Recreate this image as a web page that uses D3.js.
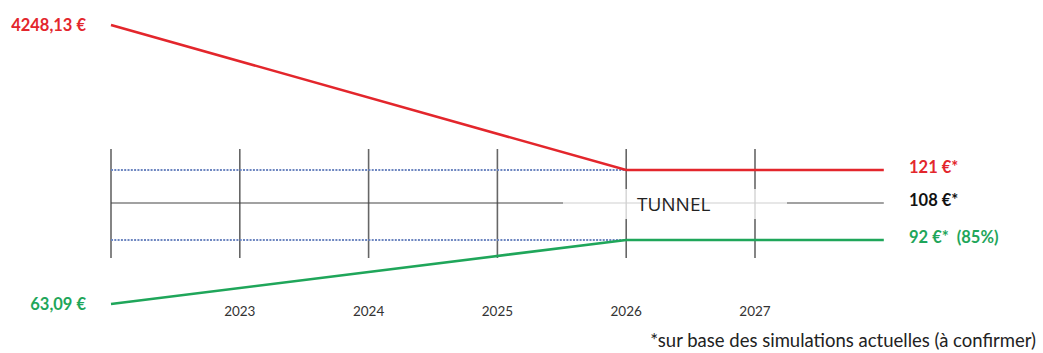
<!DOCTYPE html>
<meta charset="utf-8">
<head>
  <style>
    body { margin: 0; background: #fff; font-family: Lato, "Open Sans", sans-serif; }
    .val { font-weight: 700; font-size: 16.5px; }
    .year { font-size: 13.5px; fill: #333; }
  </style>
</head>
<body>
  <div class="chart"></div>
  <script src="https://d3js.org/d3.v7.min.js"></script>
  <script>
    // years shown as vertical marks (2022 unlabeled start)
    var tickYears = [2022, 2023, 2024, 2025, 2026, 2027];
    var labelYears = [2023, 2024, 2025, 2026, 2027];

    // red series (high) and green series (low)
    var redSeries = [{year: 2022, v: 4248.13}, {year: 2026, v: 121}, {year: 2028, v: 121}];
    var greenSeries = [{year: 2022, v: 63.09}, {year: 2026, v: 92}, {year: 2028, v: 92}];
    var tunnelMid = [{year: 2022, v: 108}, {year: 2028, v: 108}];
    var dottedLevels = [121, 92];

    var rightLabels = [
      {v: 121, text: "121 €*", color: "#e3262c"},
      {v: 108, text: "108 €*", color: "#111"},
      {v: 92, text: "92 €*  (85%)", color: "#1fa65a"}
    ];
    var leftLabels = [
      {v: 4248.13, text: "4248,13 €", color: "#e3262c"},
      {v: 63.09, text: "63,09 €", color: "#1fa65a"}
    ];

    var width = 1043, height = 353;

    var svg = d3.select(".chart").append("svg")
      .attr("width", width)
      .attr("height", height);

    var x = d3.scaleLinear().domain([2022, 2027]).range([111, 755]);

    // schematic (not to scale) piecewise scale
    var y = d3.scaleLinear()
      .domain([63.09, 92, 108, 121, 4248.13])
      .range([304, 240, 203, 170, 25]);

    // vertical year marks
    svg.selectAll(".vtick")
      .data(tickYears)
      .enter().append("line")
        .attr("class", "vtick")
        .attr("x1", function(d) { return x(d); })
        .attr("x2", function(d) { return x(d); })
        .attr("y1", 149)
        .attr("y2", 258)
        .style("stroke", "#666")
        .style("stroke-width", 1.6);

    // tunnel middle line
    var line = d3.line()
      .x(function(d) { return x(d.year); })
      .y(function(d) { return y(d.v); });

    svg.append("path")
      .datum(tunnelMid)
      .attr("d", line)
      .style("fill", "none")
      .style("stroke", "#444")
      .style("stroke-width", 1.2);

    // dotted blue levels
    svg.selectAll(".dotted")
      .data(dottedLevels)
      .enter().append("line")
        .attr("x1", x(2022))
        .attr("x2", x(2026))
        .attr("y1", function(d) { return y(d); })
        .attr("y2", function(d) { return y(d); })
        .style("stroke", "#6d86c0")
        .style("stroke-width", 2)
        .style("stroke-dasharray", "2,1.3");

    // TUNNEL label box (fades lines behind it)
    svg.append("rect")
      .attr("x", 563)
      .attr("y", y(108) - 14)
      .attr("width", 224)
      .attr("height", 30)
      .style("fill", "#fff")
      .style("opacity", 0.75);

    svg.append("text")
      .attr("x", 637)
      .attr("y", y(108) + 8)
      .style("font-family", "'Open Sans', sans-serif")
      .style("font-size", "19px")
      .style("fill", "#222")
      .text("TUNNEL");

    svg.append("path")
      .datum(redSeries)
      .attr("d", line)
      .style("fill", "none")
      .style("stroke", "#e3262c")
      .style("stroke-width", 2.6);

    svg.append("path")
      .datum(greenSeries)
      .attr("d", line)
      .style("fill", "none")
      .style("stroke", "#1fa65a")
      .style("stroke-width", 2.6);

    // value labels
    svg.selectAll(".lval")
      .data(leftLabels)
      .enter().append("text")
        .attr("class", "val")
        .attr("x", 86)
        .attr("y", function(d) { return y(d.v) + 6; })
        .attr("text-anchor", "end")
        .style("fill", function(d) { return d.color; })
        .text(function(d) { return d.text; });

    svg.selectAll(".rval")
      .data(rightLabels)
      .enter().append("text")
        .attr("class", "val")
        .attr("x", 909)
        .attr("y", function(d) { return y(d.v) + 3; })
        .style("fill", function(d) { return d.color; })
        .style("white-space", "pre")
        .text(function(d) { return d.text; });

    // year labels
    svg.selectAll(".year")
      .data(labelYears)
      .enter().append("text")
        .attr("class", "year")
        .attr("x", function(d) { return x(d); })
        .attr("y", 316)
        .attr("text-anchor", "middle")
        .text(function(d) { return d; });

    svg.append("text")
      .attr("x", 1036)
      .attr("y", 347)
      .attr("text-anchor", "end")
      .style("font-size", "18.5px")
      .style("fill", "#222")
      .text("*sur base des simulations actuelles (à confirmer)");
  </script>
</body>
